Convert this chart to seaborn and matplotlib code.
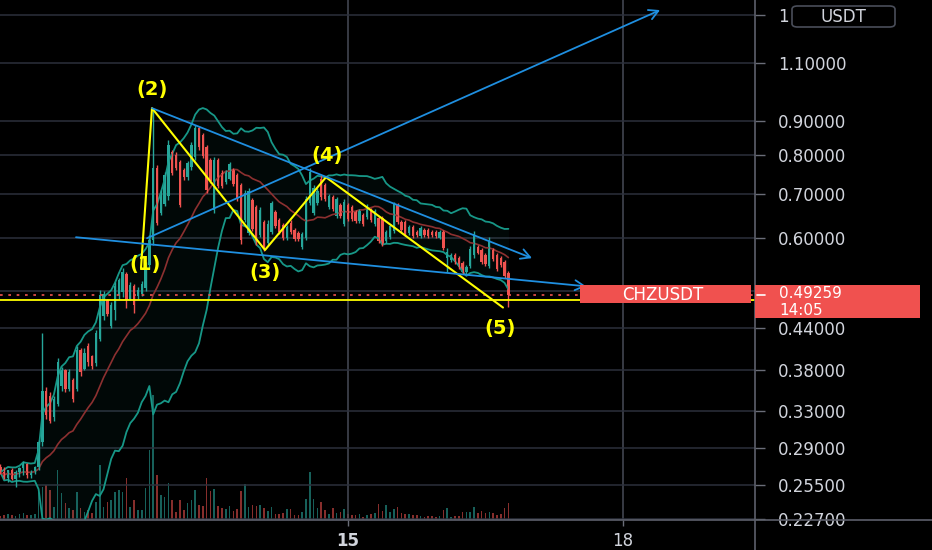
import numpy as np
import pandas as pd
import matplotlib
matplotlib.use("Agg")
import matplotlib.pyplot as plt
import seaborn as sns
from matplotlib.patches import Rectangle, FancyBboxPatch
from matplotlib.lines import Line2D
from matplotlib.ticker import NullLocator

# ---------------- data ----------------
first_candle_day = 11 + 5 / 24          # 11th, 05:00, hourly candles
opens = [.272, .267, .262, .269, .261, .267, .2705, .275, .264, .267,
         .2715, .296, .354, .348, .323, .338, .360, .380, .356, .367,
         .356, .407, .382, .413, .399, .389, .424, .458, .484, .443,
         .468, .493, .498, .530, .487, .508, .491, .494, .505, .547,
         .596, .765, .654, .675, .694, .808, .800, .781, .760, .741,
         .768, .795, .879, .858, .822, .786, .661, .786, .751, .728,
         .736, .760, .746, .721, .639, .611, .684, .668, .606, .635,
         .590, .613, .657, .639, .628, .600, .632, .617, .611, .582,
         .600, .677, .654, .677, .736, .721, .668, .691, .648, .673,
         .630, .673, .668, .657, .637, .650, .646, .661, .630, .643,
         .643, .594, .602, .615, .673, .635, .635, .611, .624, .613,
         .604, .617, .617, .613, .613, .600, .613, .560, .556, .566,
         .560, .551, .533, .545, .566, .582, .576, .566, .545, .576,
         .566, .560, .552, .532]
highs = [.275, .272, .269, .2705, .269, .272, .278, .276, .269, .273,
         .298, .432, .358, .352, .348, .396, .384, .382, .382, .370,
         .413, .410, .410, .417, .401, .436, .501, .499, .487, .481,
         .515, .522, .541, .533, .515, .512, .506, .517, .552, .606,
         .941, .773, .709, .755, .843, .814, .808, .786, .765, .784,
         .837, .888, .885, .864, .828, .792, .795, .792, .760, .760,
         .781, .765, .751, .726, .709, .714, .689, .673, .668, .639,
         .639, .682, .661, .643, .632, .628, .639, .621, .615, .613,
         .694, .765, .721, .714, .746, .726, .699, .696, .691, .677,
         .687, .677, .673, .661, .664, .654, .675, .666, .664, .648,
         .648, .617, .630, .680, .677, .639, .639, .628, .628, .617,
         .626, .621, .621, .617, .617, .617, .617, .580, .570, .570,
         .564, .554, .547, .584, .615, .586, .580, .570, .602, .580,
         .570, .564, .556, .535]
lows = [.265, .2605, .258, .260, .2535, .263, .264, .262, .262, .265,
        .269, .292, .321, .317, .319, .336, .354, .352, .354, .340,
        .354, .373, .380, .386, .381, .386, .421, .452, .458, .440,
        .452, .487, .489, .471, .484, .463, .487, .491, .499, .541,
        .586, .628, .650, .671, .684, .746, .760, .668, .734, .734,
        .760, .786, .814, .792, .701, .726, .654, .714, .714, .723,
        .734, .719, .682, .588, .635, .606, .615, .586, .602, .574,
        .586, .608, .621, .608, .596, .596, .608, .594, .594, .578,
        .596, .673, .650, .673, .684, .682, .664, .659, .643, .643,
        .626, .637, .637, .632, .632, .626, .641, .635, .626, .590,
        .584, .590, .598, .611, .630, .613, .604, .606, .600, .602,
        .600, .602, .600, .602, .600, .598, .576, .533, .552, .549,
        .539, .530, .531, .541, .560, .568, .549, .545, .541, .554,
        .535, .543, .522, .473]
closes = [.267, .262, .269, .261, .267, .2705, .275, .264, .267, .2715,
          .296, .354, .325, .319, .344, .391, .380, .356, .377, .344,
          .407, .377, .404, .391, .385, .432, .493, .494, .461, .476,
          .508, .519, .533, .484, .510, .476, .501, .512, .547, .596,
          .765, .633, .701, .746, .828, .751, .765, .673, .741, .778,
          .828, .879, .822, .797, .709, .731, .786, .719, .719, .755,
          .776, .723, .687, .596, .701, .706, .619, .590, .661, .580,
          .630, .677, .626, .613, .600, .624, .613, .598, .598, .608,
          .687, .755, .714, .706, .691, .687, .694, .664, .687, .648,
          .680, .641, .641, .637, .659, .630, .671, .639, .659, .594,
          .588, .613, .626, .675, .635, .617, .608, .624, .604, .606,
          .621, .606, .604, .606, .604, .613, .580, .572, .566, .552,
          .543, .533, .543, .578, .608, .570, .552, .549, .596, .558,
          .539, .547, .526, .49259]
volumes = [4, 5, 6, 5, 4, 6, 7, 5, 5, 6,
           28, 33, 35, 30, 13, 50, 27, 17, 12, 10,
           28, 12, 8, 10, 7, 18, 55, 13, 18, 20,
           28, 30, 28, 42, 13, 20, 10, 10, 32, 70,
           125, 45, 25, 23, 37, 20, 8, 20, 10, 17,
           20, 30, 15, 14, 42, 29, 31, 14, 12, 11,
           14, 9, 11, 29, 36, 13, 15, 14, 15, 12,
           9, 13, 6, 6, 7, 11, 11, 5, 5, 8,
           21, 48, 21, 12, 18, 10, 6, 12, 7, 8,
           11, 6, 5, 5, 6, 3, 5, 6, 7, 16,
           9, 15, 8, 11, 13, 7, 6, 6, 5, 5,
           4, 3, 4, 4, 3, 4, 10, 12, 3, 4,
           4, 8, 8, 8, 13, 7, 9, 7, 8, 7,
           5, 6, 12, 17]

price_ticks = [1.3, 1.1, 0.9, 0.8, 0.7, 0.6, 0.5, 0.44, 0.38, 0.33, 0.29, 0.255, 0.227]
# the 1.3 label is mostly hidden behind the quote badge and the 0.5 label behind the price tag
price_labels = ["1", "1.10000", "0.90000", "0.80000", "0.70000", "0.60000",
                "", "0.44000", "0.38000", "0.33000", "0.29000", "0.25500", "0.22700"]
day_ticks = [15, 18]
day_labels = ["15", "18"]
symbol = "CHZUSDT"
quote = "USDT"
last_price = 0.49259
last_price_text = "0.49259"
countdown = "14:05"
level_price = 0.4845

wave_days = [12.742, 12.862, 14.095, 14.760, 16.691]
wave_prices = [0.541, 0.941, 0.576, 0.741, 0.472]
wave_labels = ["(1)", "(2)", "(3)", "(4)", "(5)"]
wave_label_days = [12.786, 12.862, 14.095, 14.771, 16.658]
wave_label_prices = [0.547, 1.002, 0.532, 0.800, 0.4397]

trend_days = [[12.862, 17.007], [12.033, 17.597], [12.808, 18.404]]
trend_prices = [[0.941, 0.560], [0.602, 0.508], [0.600, 1.321]]

bb_period = 20
bb_mult = 2

# ---------------- style ----------------
sns.set_theme(style="dark", rc={"axes.facecolor": "black", "figure.facecolor": "black"})
plt.rcParams["font.family"] = ["DejaVu Sans"]

UP = "#26a69a"
DOWN = "#ef5350"
VUP = "#17605a"
VDOWN = "#872e2c"
BAND = "#179787"
MID = "#8c3030"
YEL = "#ffff00"
BLUE = "#1f8fe0"
TXT = "#d1d4dc"
GRID = "#2c303c"
VGRID = "#474b57"

W, H = 932, 550
fig = plt.figure(figsize=(9.32, 5.5), dpi=100, facecolor="black")

ax = fig.add_axes([0, 30 / H, 755 / W, 520 / H])
vax = ax.twinx()
vax.set_zorder(1)
ax.set_zorder(2)
ax.patch.set_visible(False)
vax.patch.set_facecolor("black")

df = pd.DataFrame({"open": opens, "high": highs, "low": lows, "close": closes, "volume": volumes})
df["t"] = first_candle_day + np.arange(len(df)) / 24
df["up"] = df["close"] >= df["open"]
roll = df["close"].rolling(bb_period, min_periods=1)
df["mid"] = roll.mean()
df["std"] = roll.std(ddof=0).fillna(0)
df["upper"] = df["mid"] + bb_mult * df["std"]
df["lower"] = (df["mid"] - bb_mult * df["std"]).clip(lower=0.05)

# volume
vcols = np.where(df["up"], VUP, VDOWN)
vax.bar(df["t"], df["volume"], width=0.42 / 24, color=vcols, linewidth=0)
vax.set_ylim(0, 520)
vax.set_yticks([])
for s in vax.spines.values():
    s.set_visible(False)

# bands
ax.fill_between(df["t"], df["lower"], df["upper"], color=UP, alpha=0.05, linewidth=0)
sns.lineplot(data=df, x="t", y="upper", ax=ax, color=BAND, linewidth=1.3, estimator=None)
sns.lineplot(data=df, x="t", y="lower", ax=ax, color=BAND, linewidth=1.3, estimator=None)
sns.lineplot(data=df, x="t", y="mid", ax=ax, color=MID, linewidth=1.2, estimator=None)

# candles
ccols = np.where(df["up"], UP, DOWN)
ax.vlines(df["t"], df["low"], df["high"], colors=ccols, linewidth=1.0)
body_lo = np.minimum(df["open"], df["close"])
body_h = np.maximum(np.abs(df["close"] - df["open"]), 0.002)
ax.bar(df["t"], body_h, bottom=body_lo, width=0.62 / 24, color=ccols, linewidth=0)

# horizontal lines
ax.axhline(level_price, color=YEL, linewidth=1.3)
ax.axhline(last_price, color=DOWN, linewidth=1.2, linestyle=(0, (1.6, 3.4)))

# trend lines with arrows
for dd, pp in zip(trend_days, trend_prices):
    ax.annotate("", xy=(dd[1], pp[1]), xytext=(dd[0], pp[0]),
                arrowprops=dict(arrowstyle="->,head_length=0.55,head_width=0.3",
                                color=BLUE, lw=1.3, shrinkA=0, shrinkB=0))

# Elliott wave
ax.plot(wave_days, wave_prices, color=YEL, linewidth=1.5)
for d, p, s in zip(wave_label_days, wave_label_prices, wave_labels):
    ax.text(d, p, s, color=YEL, fontsize=14, fontweight="bold", ha="center", va="center")

# axes
ax.set_yscale("log")
ax.set_ylim(0.2263, 1.368)
ax.set_xlim(11.204, 19.440)
ax.yaxis.tick_right()
ax.set_yticks(price_ticks, labels=price_labels)
ax.yaxis.set_minor_locator(NullLocator())
ax.set_xticks(day_ticks, labels=day_labels)
ax.set_xlabel("")
ax.set_ylabel("")
ax.tick_params(axis="y", which="major", right=True, left=False, length=7.5, width=1,
               color="#6a6d78", pad=9, labelsize=12, labelcolor=TXT)
ax.tick_params(axis="x", which="major", bottom=True, length=4, width=1,
               color="#6a6d78", pad=5, labelsize=12, labelcolor=TXT)
ax.get_xticklabels()[0].set_fontweight("bold")
ax.grid(True, axis="y", which="major", color=GRID, linewidth=1.1)
ax.grid(True, axis="x", which="major", color=VGRID, linewidth=1.1)
for s in ax.spines.values():
    s.set_visible(False)


def fx(px):
    return px / W


def fy(py):
    return 1 - py / H


# separators
fig.add_artist(Line2D([fx(755), fx(755)], [0, 1], color="#5d606b", linewidth=1.2, zorder=5))
fig.add_artist(Line2D([0, 1], [fy(520), fy(520)], color="#5d606b", linewidth=1.2, zorder=5))

# quote badge
badge = FancyBboxPatch((fx(792), fy(27)), fx(103), 21 / H,
                       boxstyle="round,pad=0,rounding_size=0.006",
                       transform=fig.transFigure, facecolor="black",
                       edgecolor="#4a4e5a", linewidth=1.2, zorder=10)
fig.add_artist(badge)
fig.text(fx(843), fy(16.5), quote, color=TXT, fontsize=12, ha="center", va="center", zorder=11)

# price labels
fig.add_artist(Rectangle((fx(755), fy(318)), fx(165), 33 / H, transform=fig.transFigure,
                         facecolor="#f0514f", edgecolor="none", zorder=10))
fig.add_artist(Line2D([fx(757), fx(765)], [fy(295), fy(295)], color="white", linewidth=1.2, zorder=11))
fig.text(fx(779), fy(294), last_price_text, color="white", fontsize=11, ha="left", va="center", zorder=11)
fig.text(fx(779), fy(310.5), countdown, color="white", fontsize=11, ha="left", va="center", zorder=11)

fig.add_artist(Rectangle((fx(580), fy(303)), fx(171), 18 / H, transform=fig.transFigure,
                         facecolor="#f0514f", edgecolor="none", zorder=10))
fig.text(fx(663), fy(294.5), symbol, color="white", fontsize=12, ha="center", va="center", zorder=11)

fig.savefig("out.png", dpi=100, facecolor="black")
